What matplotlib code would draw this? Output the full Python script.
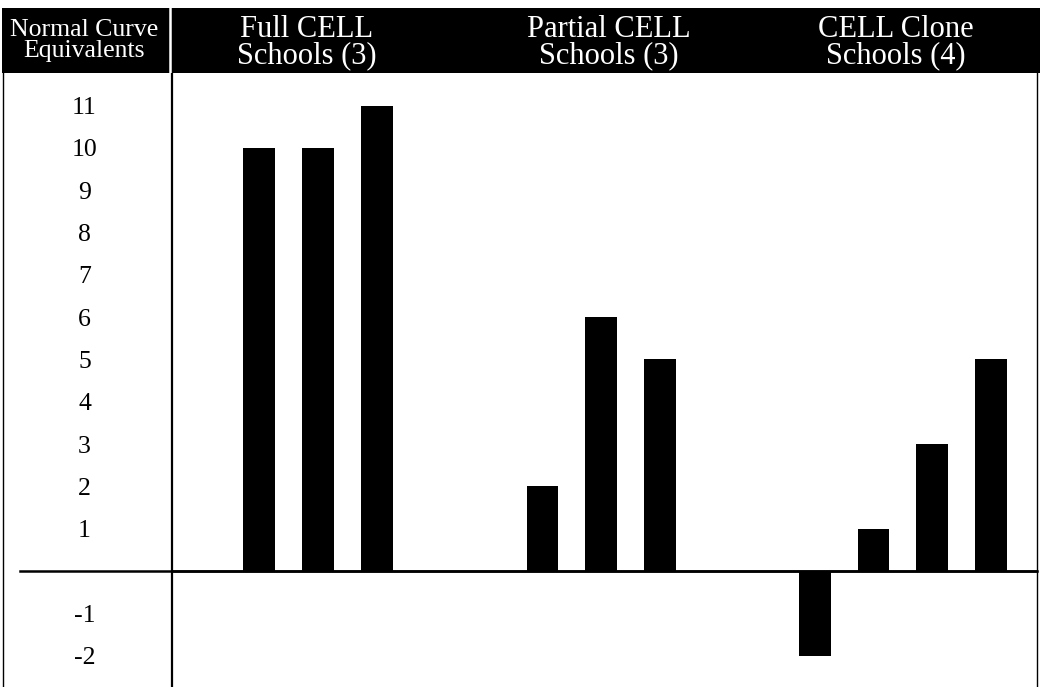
import numpy as np
import matplotlib
matplotlib.use('Agg')
import matplotlib.pyplot as plt
from matplotlib.lines import Line2D

matplotlib.rcParams['font.family'] = ['Liberation Serif', 'DejaVu Serif']

# data
groups = ['Full CELL\nSchools (3)', 'Partial CELL\nSchools (3)', 'CELL Clone\nSchools (4)']
full_cell = [10, 10, 11]
partial_cell = [2, 6, 5]
cell_clone = [-2, 1, 3, 5]
ytick_vals = [11, 10, 9, 8, 7, 6, 5, 4, 3, 2, 1, -1, -2]
corner_label = 'Normal Curve\nEquivalents'

W, H = 1041, 687
fig = plt.figure(figsize=(W / 100, H / 100), dpi=100)

# pixel layout helpers
def fx(px):
    return px / W

def fy(py):
    return 1 - py / H

head_top, head_bot = 8, 73
body_left, body_right = 172, 1037

# main plot area
ax = fig.add_axes([fx(body_left), 0, fx(body_right - body_left), fy(head_bot)])
group_starts = [0, 4.82, 9.45]
series = [full_cell, partial_cell, cell_clone]
for start, vals in zip(group_starts, series):
    pos = start + np.arange(len(vals))
    ax.bar(pos, vals, width=0.54, color='black', zorder=3)

ax.set_xlim(-1.48, 13.23)
ax.set_ylim(-2.74, 11.77)
ax.axhline(0, color='black', lw=1.8, zorder=4)
# zero line runs on into the label column
ax.plot([(20 - body_left) / (body_right - body_left), 1], [0, 0],
        transform=ax.get_yaxis_transform(), color='black', lw=1.8,
        clip_on=False, zorder=4)

ax.set_xticks([])
ax.set_yticks(ytick_vals)
ax.set_yticklabels([str(v) for v in ytick_vals], fontsize=18.5)
ax.tick_params(axis='y', length=0, pad=63)
for lab in ax.get_yticklabels():
    lab.set_horizontalalignment('center')

ax.spines['bottom'].set_visible(False)
ax.spines['top'].set_visible(False)
ax.spines['left'].set_linewidth(1.6)
ax.spines['right'].set_linewidth(1.0)

# outer left border
fig.add_artist(Line2D([fx(3), fx(3)], [0, fy(head_bot)], color='black', lw=1.0))

# header band
axh = fig.add_axes([fx(2), fy(head_bot), fx(1040 - 2), fy(head_top) - fy(head_bot)])
axh.set_facecolor('black')
axh.set_xlim(2, 1040)
axh.set_ylim(0, 1)
axh.set_xticks([])
axh.set_yticks([])
for s in axh.spines.values():
    s.set_visible(False)
axh.axvline(170, color='white', lw=1.8)

axh.text(84, 0.5, corner_label, color='white', fontsize=18.5, ha='center',
         va='center', linespacing=0.95)
head_x = [307, 609, 896]
for x, name in zip(head_x, groups):
    axh.text(x, 0.47, name, color='white', fontsize=22, ha='center',
             va='center', linespacing=0.9)

fig.savefig('out.png', dpi=100)
